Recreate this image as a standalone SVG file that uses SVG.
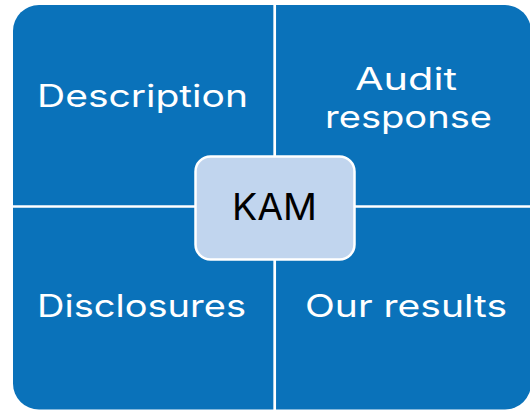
<svg xmlns="http://www.w3.org/2000/svg" width="530" height="410" viewBox="0 0 530 410">
  <style>
    .lbl { font-family: Inter, "Noto Sans", "Liberation Sans", sans-serif; font-weight: 400; font-size: 31px; fill: #ffffff; text-anchor: middle; }
    .div { stroke: #ffffff; stroke-width: 2.7; fill: none; }
    .kam { font-family: Inter, "Noto Sans", "Liberation Sans", sans-serif; font-weight: 400; font-size: 37px; fill: #000000; text-anchor: middle; }
  </style>
  <rect width="530" height="410" fill="#ffffff"/>
  <g id="frame">
    <rect x="13" y="5" width="518" height="404.5" rx="26" ry="26" fill="#0a72ba"/>
  </g>
  <g id="connectors">
    <line class="div" x1="274.7" y1="0" x2="274.7" y2="410"/>
    <line class="div" x1="0" y1="206.5" x2="530" y2="206.5"/>
  </g>
  <g id="description">
    <text class="lbl" x="142.5" y="107.3" textLength="211" lengthAdjust="spacingAndGlyphs">Description</text>
  </g>
  <g id="audit-response">
    <text class="lbl" x="406" y="90" textLength="102" lengthAdjust="spacingAndGlyphs">Audit</text>
    <text class="lbl" x="408.5" y="128" textLength="167" lengthAdjust="spacingAndGlyphs">response</text>
  </g>
  <g id="disclosures">
    <text class="lbl" x="141.5" y="317" textLength="209" lengthAdjust="spacingAndGlyphs">Disclosures</text>
  </g>
  <g id="our-results">
    <text class="lbl" x="406" y="317" textLength="202" lengthAdjust="spacingAndGlyphs">Our results</text>
  </g>
  <g id="kam">
    <rect x="195.5" y="156.5" width="159" height="103" rx="15" ry="15" fill="#c1d5ee" stroke="#ffffff" stroke-width="2.5"/>
    <text class="kam" x="274.5" y="220" textLength="85" lengthAdjust="spacingAndGlyphs">KAM</text>
  </g>
</svg>
